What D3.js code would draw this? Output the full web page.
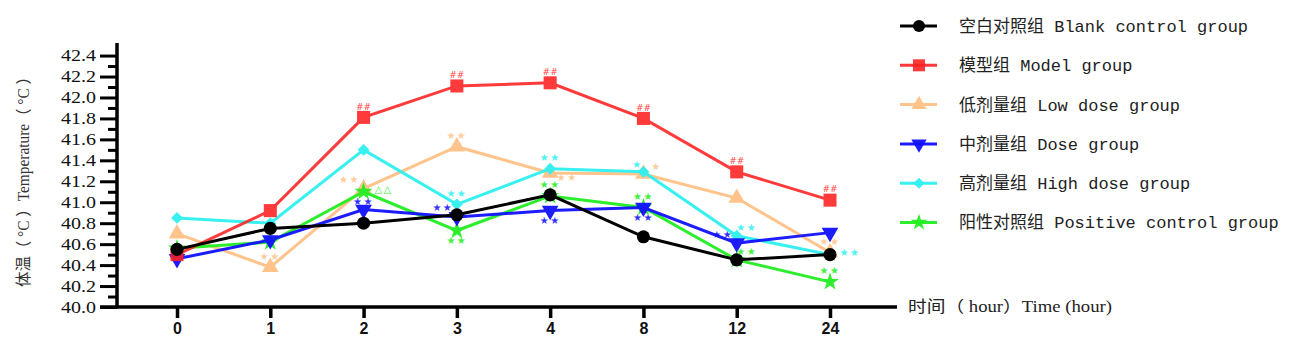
<!DOCTYPE html>
<html>
<head>
<meta charset="utf-8">
<script src="https://cdn.jsdelivr.net/npm/d3@7"></script>
<style>
  body { margin: 0; background: #fff; }
  svg { display: block; }
</style>
</head>
<body>
<svg id="chart" width="1299" height="354"></svg>
<script>
// time points (hours) on the x axis
var times = ["0", "1", "2", "3", "4", "8", "12", "24"];

// body temperature per group
var blankControl = [40.55, 40.75, 40.80, 40.88, 41.07, 40.67, 40.45, 40.50];
var modelGroup = [40.50, 40.92, 41.81, 42.11, 42.14, 41.80, 41.29, 41.02];
var lowDose = [40.70, 40.38, 41.13, 41.53, 41.28, 41.27, 41.04, 40.52];
var midDose = [40.46, 40.64, 40.93, 40.86, 40.92, 40.95, 40.61, 40.71];
var highDose = [40.85, 40.80, 41.50, 40.98, 41.32, 41.29, 40.68, 40.50];
var positiveControl = [40.56, 40.62, 41.10, 40.73, 41.06, 40.95, 40.45, 40.24];

var groupNames = [
    "空白对照组 Blank control group",
    "模型组 Model group",
    "低剂量组 Low dose group",
    "中剂量组 Dose group",
    "高剂量组 High dose group",
    "阳性对照组 Positive control group"
];

var yTicks = [40.0, 40.2, 40.4, 40.6, 40.8, 41.0, 41.2, 41.4, 41.6, 41.8, 42.0, 42.2, 42.4];
var yMinorTicks = [40.1, 40.3, 40.5, 40.7, 40.9, 41.1, 41.3, 41.5, 41.7, 41.9, 42.1, 42.3];

// significance marks: [group index, time index, text, placement]
var marks = [
    [1, 2, "##", "above"], [1, 3, "##", "above"], [1, 4, "##", "above"],
    [1, 5, "##", "above"], [1, 6, "##", "above"], [1, 7, "##", "above"],
    [2, 1, "★★", "above"], [2, 2, "★★", "aboveLeft"], [2, 3, "★★", "above"],
    [2, 4, "★★", "belowRight"], [2, 5, "★", "aboveRightNear"], [2, 7, "★★", "above"],
    [5, 2, "△△", "right"],
    [3, 2, "★★", "aboveTight"], [3, 3, "★★", "aboveLeft"], [3, 4, "★★", "below"],
    [3, 5, "★★", "below"], [3, 6, "★★", "aboveLeft"],
    [4, 3, "★★", "above"], [4, 4, "★★", "above"], [4, 5, "★", "aboveLeftNear"],
    [4, 6, "★★", "aboveRight"], [4, 7, "★★", "right"],
    [5, 3, "★★", "below"], [5, 4, "★★", "above"], [5, 5, "★★", "above"],
    [5, 6, "★★", "aboveRight"], [5, 7, "★★", "above"]
];

var series = [blankControl, modelGroup, lowDose, midDose, highDose, positiveControl];
var colors = ["#000000", "#ff1f1f", "#ffc48c", "#1010ff", "#2ef0f0", "#22ee22"];
var opac = [1, 0.88, 1, 0.95, 0.95, 0.95];
var shapes = [d3.symbolCircle, d3.symbolSquare, d3.symbolTriangle, d3.symbolTriangle, d3.symbolSquare, d3.symbolStar];
var sizes = [135, 170, 120, 120, 70, 100];
var rotations = [0, 0, 0, 180, 45, 0];
var drawOrder = [2, 4, 5, 3, 1, 0];

var placements = {
    above: [0, -11], aboveTight: [0, -8], below: [0, 10],
    aboveLeft: [-14, -9], aboveRight: [10, -8], belowRight: [17, 5],
    right: [20, -2], aboveLeftNear: [-6, -7], aboveRightNear: [13, -7]
};

const svg = d3.select("#chart");

const x = d3.scalePoint().domain(times).range([177, 830]);
const y = d3.scaleLinear().domain([40, 42.52]).range([307, 43]);
const axisX = 117, axisY = 307;

// y axis
const yAxis = svg.append("g").attr("transform", `translate(${axisX},0)`)
    .call(d3.axisLeft(y).tickValues(yTicks).tickSize(17).tickSizeOuter(0).tickFormat(d3.format(".1f")));
yAxis.select(".domain").remove();
yAxis.selectAll(".tick line").attr("stroke", "#000").attr("stroke-width", 3);
yAxis.selectAll(".tick text")
    .attr("x", -21)
    .attr("textLength", 35)
    .attr("lengthAdjust", "spacingAndGlyphs")
    .style("font-family", "'Liberation Serif', 'Times New Roman', serif")
    .style("font-size", "16px")
    .attr("fill", "#111");

const yMinor = svg.append("g").attr("transform", `translate(${axisX},0)`)
    .call(d3.axisLeft(y).tickValues(yMinorTicks).tickSize(9).tickFormat(""));
yMinor.select(".domain").remove();
yMinor.selectAll(".tick line").attr("stroke", "#000").attr("stroke-width", 3);

svg.append("line")
    .attr("x1", axisX).attr("x2", axisX)
    .attr("y1", y.range()[1]).attr("y2", axisY + 1.5)
    .attr("stroke", "#000").attr("stroke-width", 3.5);

// x axis
const xAxis = svg.append("g").attr("transform", `translate(0,${axisY})`)
    .call(d3.axisBottom(x).tickSize(11).tickSizeOuter(0));
xAxis.select(".domain").remove();
xAxis.selectAll(".tick line").attr("stroke", "#000").attr("stroke-width", 3.5);
xAxis.selectAll(".tick text")
    .attr("y", 16)
    .attr("dy", "0.71em")
    .style("font-family", "'Liberation Sans Narrow', 'Arial Narrow', 'Liberation Sans', sans-serif")
    .style("font-weight", "bold")
    .style("font-size", "16px")
    .attr("fill", "#111");

svg.append("line")
    .attr("x1", 100).attr("x2", 897)
    .attr("y1", axisY).attr("y2", axisY)
    .attr("stroke", "#000").attr("stroke-width", 3.5);

// axis titles
svg.append("text")
    .attr("transform", `translate(29,178) rotate(-90)`)
    .attr("text-anchor", "middle")
    .attr("textLength", 218)
    .attr("lengthAdjust", "spacingAndGlyphs")
    .style("font-family", "'Liberation Serif', 'Times New Roman', 'Noto Sans CJK SC', serif")
    .style("font-size", "16px")
    .attr("fill", "#333")
    .text("体温（ °C ）Temperature（ °C ）");

svg.append("text")
    .attr("x", 908).attr("y", 312)
    .attr("textLength", 204)
    .attr("lengthAdjust", "spacingAndGlyphs")
    .style("font-family", "'Liberation Serif', 'Times New Roman', 'Noto Sans CJK SC', serif")
    .style("font-size", "16px")
    .attr("fill", "#222")
    .text("时间（ hour）Time (hour)");

// lines and markers
const line = d3.line().x((d, i) => x(times[i])).y(d => y(d));

drawOrder.forEach(k => {
    const g = svg.append("g").attr("opacity", opac[k]);
    g.append("path")
        .datum(series[k])
        .attr("d", line)
        .attr("fill", "none")
        .attr("stroke", colors[k])
        .attr("stroke-width", 3);
    g.selectAll("path.marker")
        .data(series[k])
        .join("path")
        .attr("class", "marker")
        .attr("d", d3.symbol().type(shapes[k]).size(sizes[k]))
        .attr("transform", (d, i) => `translate(${x(times[i])},${y(d)}) rotate(${rotations[k]})`)
        .attr("fill", colors[k]);
});

// significance marks
svg.append("g").selectAll("text")
    .data(marks)
    .join("text")
    .attr("x", d => x(times[d[1]]) + placements[d[3]][0])
    .attr("y", d => y(series[d[0]][d[1]]) + placements[d[3]][1])
    .attr("dy", "0.35em")
    .attr("text-anchor", "middle")
    .attr("fill", d => colors[d[0]])
    .attr("opacity", 0.85)
    .style("font-family", "'DejaVu Sans', sans-serif")
    .style("font-size", d => d[2] == "##" ? "9px" : "10px")
    .style("letter-spacing", d => d[2] == "##" ? "0px" : "1.5px")
    .text(d => d[2]);

// legend
const legend = svg.append("g").selectAll("g")
    .data(groupNames)
    .join("g")
    .attr("transform", (d, i) => `translate(900,${26 + i * 39.3})`);

legend.append("line")
    .attr("x1", 0).attr("x2", 37)
    .attr("stroke", (d, i) => colors[i])
    .attr("stroke-width", 3)
    .attr("opacity", (d, i) => opac[i]);

legend.append("path")
    .attr("d", (d, i) => d3.symbol().type(shapes[i]).size(sizes[i] * 0.85)())
    .attr("transform", (d, i) => `translate(19,0) rotate(${rotations[i]})`)
    .attr("fill", (d, i) => colors[i])
    .attr("opacity", (d, i) => opac[i]);

legend.append("text")
    .attr("x", 59)
    .attr("dy", "0.35em")
    .style("font-family", "'Liberation Mono', 'Courier New', 'Noto Sans CJK SC', monospace")
    .style("font-size", "17px")
    .attr("fill", "#222")
    .text(d => d);
</script>
</body>
</html>
